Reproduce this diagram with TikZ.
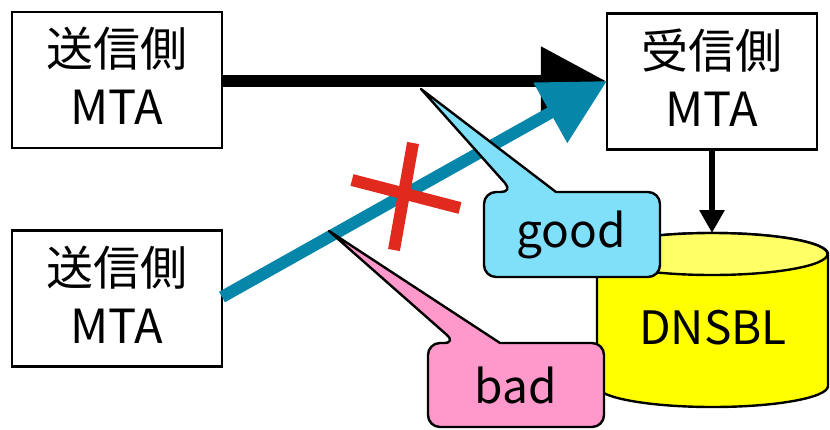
\documentclass[tikz,border=0pt]{standalone}
\usepackage{fontspec}
\setmainfont{Noto Sans CJK JP}
\usetikzlibrary{arrows.meta}
\definecolor{arrowblue}{HTML}{0686A8}
\definecolor{goodfill}{HTML}{80E0FA}
\definecolor{badfill}{HTML}{FF99CC}
\definecolor{xred}{HTML}{E02A1E}
\definecolor{cylbody}{HTML}{FFFF00}
\definecolor{cyltopc}{HTML}{FFFF66}
\tikzset{
  mtabox/.style={draw=black, line width=2.2pt, fill=white, minimum width=210pt, minimum height=136pt, inner sep=0pt},
  mtatext/.style={align=center, inner sep=0pt, font=\fontsize{47}{58}\selectfont},
  bigarrow/.style={line width=12pt, -{Triangle[length=65pt,width=66pt]}},
  callout/.style={draw=black, line width=2.4pt, line join=round},
  lbl/.style={inner sep=0pt, font=\fontsize{46}{50}\selectfont},
}
\begin{document}
\begin{tikzpicture}[x=1pt,y=1pt]
\useasboundingbox (0,0) rectangle (830,-429);
% boxes
\node[mtabox] (s1) at (117,-80) {};
\node[mtatext] (s1t) at ([yshift=4pt]s1.center) {送信側\\MTA};
\node[mtabox] (s2) at (117,-298.5) {};
\node[mtatext] (s2t) at ([yshift=4pt]s2.center) {送信側\\MTA};
\node[mtabox] (r) at (712,-81.5) {};
\node[mtatext] (rt) at ([yshift=4pt]r.center) {受信側\\MTA};
% cylinder
\coordinate (cyltop) at (712,-233);
\draw[line width=2.4pt, fill=cylbody] (597,-254) -- (597,-386) arc[start angle=180,end angle=360,x radius=115.5,y radius=21] -- (828,-254) arc[start angle=0,end angle=180,x radius=115.5,y radius=21] -- cycle;
\draw[line width=2.4pt, fill=cyltopc] (712,-254) ellipse[x radius=115.5,y radius=21];
\node[lbl, font=\fontsize{46}{50}\selectfont] (db) at (713,-328) {DNSBL};
% arrows
\draw[bigarrow, black] (s1.east |- 0,-81) -- (r.west |- 0,-81);
\coordinate (bstart) at (222,-297);
\coordinate (rin) at (607,-81);
\draw[bigarrow, arrowblue] (bstart) -- (rin);
\draw[line width=6pt, -{Triangle[length=23pt,width=24pt]}] (r.south) -- (cyltop);
% red cross
\draw[xred, line width=12pt] (413,-143) -- (394,-250);
\draw[xred, line width=12pt] (352,-180) -- (460,-208);
% callouts
\coordinate (gtip) at (421,-89);
\coordinate (btip) at (329,-231);
\draw[callout, fill=goodfill] (556,-192) [rounded corners=12pt] -- (660,-192) -- (660,-277) -- (484,-277) -- (484,-192) -- (513,-192) [sharp corners] -- (gtip) -- cycle;
\node[lbl] (good) at (571,-234.5) {good};
\draw[callout, fill=badfill] (500,-343) [rounded corners=12pt] -- (604,-343) -- (604,-427) -- (428,-427) -- (428,-343) -- (456,-343) [sharp corners] -- (btip) -- cycle;
\node[lbl] (bad) at (516,-385) {bad};
\end{tikzpicture}
\end{document}
